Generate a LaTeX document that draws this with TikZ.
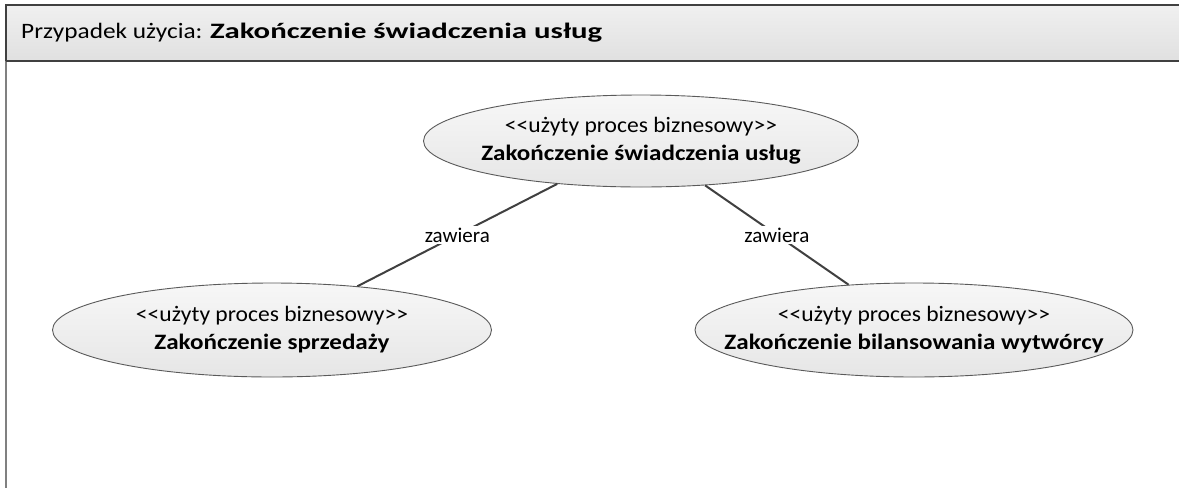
\documentclass[tikz,border=0pt]{standalone}
\usepackage{fontspec}
\setmainfont{Carlito}
\newfontfamily\ucfont{Carlito}[FakeStretch=1.07, BoldFeatures={FakeStretch=1.14}]
\newfontfamily\titlefont{Carlito}[FakeStretch=1.15, BoldFeatures={FakeStretch=1.40}]
\usetikzlibrary{shapes.geometric}
\definecolor{hdrtop}{HTML}{F0F0F0}
\definecolor{hdrbot}{HTML}{E0E0E0}
\definecolor{hdrline}{HTML}{404040}
\definecolor{frameline}{HTML}{808080}
\definecolor{ucborder}{HTML}{5A5A5A}
\definecolor{uctop}{HTML}{F7F7F7}
\definecolor{ucbot}{HTML}{E6E6E6}
\definecolor{connc}{HTML}{404040}
\newcommand\myll{<\kern0pt<}
\newcommand\mygg{>\kern0pt>}
\begin{document}
\begin{tikzpicture}[x=1pt,y=-1pt,
  uc/.style={ellipse, draw=ucborder, line width=0.9pt, top color=uctop, bottom color=ucbot,
    inner sep=0pt},
  uctext/.style={inner sep=0pt, align=center, font=\ucfont\fontsize{22}{28}\selectfont},
  conn/.style={draw=connc, line width=2pt},
  lbl/.style={fill=white, inner sep=1.5pt, font=\fontsize{21}{25}\selectfont}]
\useasboundingbox (0,0) rectangle (1179,488);
% frame
\shade[top color=hdrtop, bottom color=hdrbot] (6,5) rectangle (1179,61);
\draw[frameline, line width=2pt] (6,61) -- (6,488);
\draw[hdrline, line width=1.5pt] (1179,5) -- (6,5) -- (6,61);
\draw[hdrline, line width=2pt] (6,61) -- (1179,61);
\node[anchor=base west, inner sep=0pt, font=\titlefont\fontsize{22}{25}\selectfont] (title) at (21,38)
  {Przypadek użycia: \textbf{Zakończenie świadczenia usług}};
% use cases
\node[uc, minimum width=435, minimum height=92] (main) at (641,141) {};
\node[uctext] (maintext) at (main.center)
  {\myll użyty proces biznesowy\mygg\\\textbf{Zakończenie świadczenia usług}};
\node[uc, minimum width=439, minimum height=94] (sales) at (272,330) {};
\node[uctext] (salestext) at (sales.center)
  {\myll użyty proces biznesowy\mygg\\\textbf{Zakończenie sprzedaży}};
\node[uc, minimum width=438, minimum height=94] (gen) at (914,330) {};
\node[uctext] (gentext) at (gen.center)
  {\myll użyty proces biznesowy\mygg\\\textbf{Zakończenie bilansowania wytwórcy}};
% connectors
\draw[conn] (main) -- node[lbl] (l1) {zawiera} (sales);
\draw[conn] (main) -- node[lbl] (l2) {zawiera} (gen);
\end{tikzpicture}
\end{document}
